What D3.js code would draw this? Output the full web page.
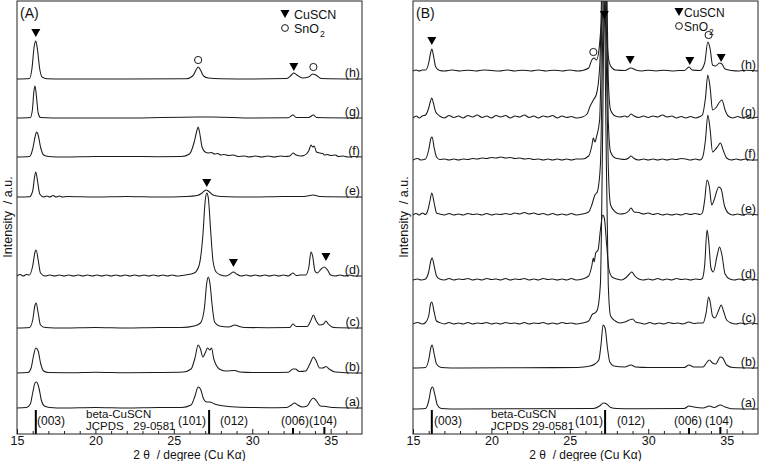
<!DOCTYPE html>
<html><head><meta charset="utf-8">
<script src="https://cdn.jsdelivr.net/npm/d3@7"></script>
<style>
body{margin:0;background:#fff;}
svg text{font-family:"Liberation Sans",Arial,sans-serif;fill:#111;}
</style></head>
<body><svg id="c" width="759" height="461"></svg>
<script>
// ---------- DATA ----------
const traceNames = ["a","b","c","d","e","f","g","h"];
const xTicks = [15,20,25,30,35];
const offsetsA = [26,61,106,158,237,277,316,355];
const offsetsB = [25,66,110,154,219,274,316,363];

const A_a=[[15,0],[15.6,0.5],[15.85,4],[16.0,15],[16.15,25],[16.25,26],[16.4,20],[16.55,8],[16.75,2],[17.1,0.5],[18,0],[20,0.5],[22,0],[24,0.5],[25.5,0.5],[26.1,3],[26.35,12],[26.55,21],[26.7,19],[26.9,9],[27.1,6],[27.3,6],[27.6,4],[28,2.5],[28.5,1.5],[29,1],[30,0.5],[31,0.3],[32.2,0.5],[32.5,3],[32.7,5],[32.9,3],[33.2,1],[33.5,2],[33.75,8],[33.9,10],[34.1,7],[34.35,2],[34.7,1.5],[35.2,0.5],[37,0]];
const A_b=[[15,0],[15.7,0.5],[15.9,5],[16.05,17],[16.2,25],[16.35,22],[16.5,10],[16.7,2],[17,0.5],[18.5,0.3],[20,0.8],[22,0.3],[24,0.5],[25.6,1],[26.1,4],[26.35,15],[26.55,28],[26.7,24],[26.85,16],[27.0,20],[27.15,25],[27.3,23],[27.4,25],[27.55,14],[27.7,8],[27.9,4],[28.3,2],[28.9,2.5],[29.2,1],[30,0.5],[31,0.5],[32.3,0.8],[32.6,4],[32.75,4],[33,1.5],[33.4,2],[33.7,10],[33.9,16],[34.05,13],[34.3,5],[34.5,5],[34.7,6.5],[34.9,4],[35.3,1],[36,0.3],[37,0]];
const A_c=[[15,0],[15.8,0.5],[16.0,8],[16.15,23],[16.22,25],[16.35,15],[16.5,3],[16.8,0.5],[18,0],[20,0.5],[22,0],[24,0.5],[25.5,0.5],[26.3,2],[26.7,5],[26.95,20],[27.1,45],[27.2,51],[27.3,45],[27.45,22],[27.6,6],[27.9,2],[28.5,1],[28.9,3],[29.1,2],[29.5,0.5],[31,0.3],[32.4,0.5],[32.6,4],[32.8,1.5],[33.5,1.5],[33.75,8],[33.9,13],[34.05,8],[34.3,3],[34.55,4],[34.7,7],[34.85,4],[35.2,0.5],[37,0]];
const A_d=[[15,0],[15.2,1.5],[15.4,0],[15.6,1.5],[15.8,1],[16.0,10],[16.15,24],[16.22,26],[16.35,16],[16.5,3],[16.8,0],[17.1,1],[17.4,0],[17.7,1],[18,0],[18.3,1],[18.6,0],[18.9,1],[19.2,0],[19.5,1],[19.8,0],[20.1,1],[20.4,0],[20.7,1],[21,0],[21.3,1],[21.6,0],[21.9,1],[22.2,0],[22.5,1],[22.8,0],[23.1,1],[23.4,0],[23.7,1],[24,0],[24.3,1],[24.6,0],[24.9,1],[25.2,0],[25.5,0.5],[26.3,3],[26.6,10],[26.85,40],[27.0,75],[27.1,83],[27.2,78],[27.35,45],[27.5,15],[27.7,4],[28,1],[28.3,0],[28.55,1.5],[28.8,4],[29,2],[29.3,0],[29.6,1],[29.9,0],[30.2,1],[30.5,0],[30.8,1],[31.1,0],[31.4,1],[31.7,0],[32,1],[32.3,0],[32.6,3],[32.8,0.5],[33.1,1],[33.4,1],[33.6,8],[33.75,24],[33.85,20],[34.0,5],[34.15,3],[34.4,7],[34.6,9],[34.8,6],[35.0,1],[35.3,0],[35.6,1],[35.9,0],[36.2,1],[36.5,0],[37,0]];
const A_e=[[15,0],[15.8,0.3],[16.0,6],[16.12,20],[16.2,25],[16.32,15],[16.45,3],[16.7,0],[16.9,1],[17.1,0],[17.3,1.5],[17.5,0],[17.7,1],[17.9,0],[18.2,0.5],[20,0],[22,0.5],[24,0],[25.8,0.5],[26.5,1.5],[26.8,4],[27.05,7],[27.2,6],[27.5,2],[28,0.5],[30,0],[32,0.5],[33.3,0.5],[33.9,2],[34.3,0.5],[37,0]];
const A_f=[[15,0],[15.8,0.5],[16.0,8],[16.15,20],[16.25,25],[16.35,22],[16.5,10],[16.7,2],[17,0.5],[18,0],[20,0.5],[22,0.5],[24,0.3],[25.5,0.5],[26.0,3],[26.3,15],[26.45,25],[26.55,30],[26.65,24],[26.8,10],[27,5],[27.2,4],[27.4,4.5],[27.6,3],[27.8,3.5],[28,2],[28.2,2.5],[28.5,1.5],[28.8,2],[29.1,0.5],[29.5,1],[29.8,0],[30.2,1],[30.6,0],[31,1],[31.4,0],[31.8,1],[32.1,0.5],[32.4,1],[32.6,4],[32.8,2],[33.1,1],[33.3,1.5],[33.6,6],[33.75,12],[33.85,10],[33.95,11],[34.1,5],[34.3,4],[34.5,3.5],[34.6,2],[34.8,2.5],[35,1.5],[35.3,2],[35.5,0.5],[35.8,1],[36.1,0],[36.5,0.5],[37,0]];
const A_g=[[15,0],[15.85,0.5],[15.98,8],[16.08,27],[16.15,32],[16.25,20],[16.35,5],[16.5,0.5],[18,0],[22,0],[26.5,1],[27.5,1],[30,0],[32.3,0.3],[32.6,3],[32.8,0.5],[33.6,0.5],[33.9,3],[34.1,0.5],[37,0]];
const A_h=[[15,0],[15.8,0.5],[15.95,10],[16.1,33],[16.2,38],[16.3,30],[16.45,10],[16.6,2],[16.9,0.3],[18,0],[22,0],[25.8,0.3],[26.2,3],[26.45,10],[26.55,12],[26.7,9],[26.9,3],[27.2,1],[28,0.3],[30,0],[32.2,0.5],[32.5,4],[32.65,6],[32.85,4],[33.2,1],[33.6,2],[33.85,5],[34.05,4],[34.4,0.5],[37,0]];

const B_a=[[15,0],[15.8,0.5],[16.0,8],[16.15,20],[16.25,22],[16.4,14],[16.55,4],[16.8,0.5],[18,0],[22,0.3],[26.5,0.5],[26.9,3],[27.15,6],[27.35,5],[27.6,1.5],[28,0.5],[29,0.3],[32.3,0.5],[32.6,3],[32.9,2],[33.5,1],[33.9,3],[34.2,1.5],[34.6,4],[34.9,2],[35.3,0.3],[37,0]];
const B_b=[[15,0],[15.8,0.5],[16.0,8],[16.15,21],[16.22,23],[16.35,14],[16.5,4],[16.8,0.5],[18,0],[22,0.3],[25.5,0.5],[26.3,2],[26.6,4],[26.85,8],[27.0,25],[27.12,43],[27.25,40],[27.4,20],[27.55,6],[27.8,2],[28.5,1],[28.9,3],[29.2,1],[30,0.5],[32.3,0.5],[32.6,3],[32.9,1],[33.5,1],[33.75,6],[33.9,8],[34.1,5],[34.3,4],[34.6,11],[34.75,10],[35.0,3],[35.4,0.5],[37,0]];
const B_c=[[15,0],[15.3,1.5],[15.6,0],[15.8,1.5],[16.0,8],[16.12,20],[16.2,22],[16.35,12],[16.5,3],[16.7,1.5],[17,0],[17.3,1.5],[17.6,0],[17.9,1],[18.2,0],[18.5,1.5],[18.8,0],[19.1,1],[19.4,0.5],[19.7,1.5],[20,0],[20.3,1],[20.6,0],[20.9,1.5],[21.2,0.5],[21.5,1],[21.8,0],[22.1,1.5],[22.4,0],[22.7,1],[23,0.5],[23.3,1.5],[23.6,0],[23.9,1],[24.2,0],[24.5,1.5],[24.8,0.5],[25.1,1],[25.4,0],[25.8,1],[26.2,3],[26.45,10],[26.6,11],[26.75,14],[26.95,40],[27.1,200],[27.2,330],[27.3,200],[27.45,40],[27.6,8],[27.9,3],[28.2,1],[28.5,2],[28.8,4],[29,5],[29.2,2],[29.5,1],[29.8,0],[30.1,1.5],[30.4,0],[30.7,1],[31,0],[31.3,1.5],[31.6,0.5],[31.9,1],[32.2,0],[32.6,2],[32.9,0.5],[33.2,1],[33.5,1],[33.7,12],[33.85,27],[33.95,22],[34.1,8],[34.25,6],[34.5,14],[34.65,19],[34.8,13],[35,4],[35.3,1],[35.6,0],[35.9,1],[36.2,0],[36.5,1],[37,0]];
const B_d=[[15,0],[15.3,1],[15.5,0],[15.8,1],[16.0,8],[16.15,20],[16.22,22],[16.35,14],[16.5,4],[16.7,1],[17,0],[17.3,1.5],[17.6,0],[17.9,1],[18.2,0.5],[18.5,1.5],[18.8,0],[19.1,1],[19.4,0],[19.7,1.5],[20,0.5],[20.3,1],[20.6,0],[20.9,1.5],[21.2,0],[21.5,1],[21.8,0.5],[22.1,1.5],[22.4,0],[22.7,1],[23,0],[23.3,1.5],[23.6,0.5],[23.9,1],[24.2,0],[24.5,1],[24.8,0],[25.1,1.5],[25.4,0],[25.8,1],[26.2,4],[26.4,14],[26.5,22],[26.55,18],[26.65,27],[26.8,30],[26.95,50],[27.1,65],[27.2,62],[27.35,35],[27.5,10],[27.7,3],[28,1],[28.3,0],[28.55,2],[28.8,6],[28.95,8],[29.15,4],[29.4,1],[29.7,0],[30,1],[30.3,0],[30.6,1.5],[30.9,0],[31.2,1],[31.5,0],[31.8,1.5],[32.1,0.5],[32.4,1],[32.7,0],[33,1],[33.3,0.5],[33.45,1.5],[33.6,15],[33.75,50],[33.85,40],[34.0,12],[34.15,8],[34.4,25],[34.55,33],[34.7,25],[34.9,6],[35.2,1],[35.5,0],[35.8,1],[36.1,0],[36.4,1],[37,0]];
const B_e=[[15,0],[15.2,1.5],[15.4,0],[15.6,2],[15.8,0.5],[15.95,5],[16.08,14],[16.2,22],[16.35,12],[16.5,2],[16.7,1],[17,0],[17.3,1.5],[17.6,0],[17.9,1],[18.2,0],[18.5,1.5],[18.8,0.5],[19.1,1],[19.4,0],[19.7,1.5],[20,0],[20.3,1],[20.6,0.5],[20.9,1.5],[21.2,0.5],[21.5,2],[21.8,1],[22.1,2.5],[22.4,1],[22.7,2],[23,0.5],[23.3,1.5],[23.6,0],[23.9,1.5],[24.2,0],[24.5,1],[24.8,0],[25.1,1.5],[25.4,0],[25.8,1],[26.2,3],[26.4,10],[26.6,20],[26.75,23],[26.95,50],[27.1,180],[27.2,260],[27.3,180],[27.45,50],[27.6,10],[27.9,3],[28.2,1],[28.5,1.5],[28.75,4],[28.9,7],[29.1,3],[29.4,2.5],[29.7,1],[30,2],[30.3,0.5],[30.6,1.5],[30.9,0],[31.2,1],[31.5,0],[31.8,1],[32.1,0],[32.4,1.5],[32.7,0.5],[33,1.5],[33.3,0.5],[33.45,2],[33.6,15],[33.75,35],[33.9,28],[34.05,10],[34.2,15],[34.5,28],[34.65,26],[34.85,10],[35.1,2],[35.4,0],[35.7,1],[36,0],[36.3,1],[37,0]];
const B_f=[[15,0],[15.3,1.5],[15.5,0],[15.8,1],[16.0,10],[16.15,22],[16.22,23],[16.35,12],[16.5,3],[16.7,0.5],[17,1],[17.3,0],[17.6,1],[17.9,0],[18.2,1],[18.5,0.5],[18.8,1.5],[19.1,1],[19.4,2],[19.7,1.5],[20,2.5],[20.3,2],[20.6,3],[20.9,2],[21.2,2.5],[21.5,1.5],[21.8,2],[22.1,1],[22.4,1.5],[22.7,0.5],[23,1],[23.3,0],[23.6,1],[23.9,0],[24.2,1],[24.5,0],[24.8,1],[25.1,0],[25.4,1],[25.8,1],[26.2,4],[26.4,14],[26.5,22],[26.6,18],[26.7,23],[26.9,40],[27.1,200],[27.2,300],[27.3,200],[27.45,40],[27.6,8],[27.9,2],[28.2,1],[28.5,0.5],[28.75,2],[28.9,4],[29.1,1.5],[29.4,0],[29.7,1],[30,0],[30.3,1],[30.6,0],[30.9,1],[31.2,0],[31.5,1],[31.8,0.5],[32.1,1.5],[32.4,1],[32.7,0],[33,1],[33.3,0],[33.45,2],[33.65,20],[33.8,45],[33.95,30],[34.1,8],[34.25,10],[34.45,14],[34.6,17],[34.8,9],[35.0,2],[35.3,0],[35.6,1],[35.9,0],[36.2,1],[36.5,0],[37,0]];
const B_g=[[15,0],[15.2,2],[15.4,0],[15.6,2],[15.8,3],[16.0,10],[16.1,16],[16.2,20],[16.3,15],[16.45,6],[16.7,2],[17,0],[17.3,2.5],[17.6,0.5],[17.9,2],[18.2,0],[18.5,2.5],[18.8,1],[19.1,3],[19.4,0.5],[19.7,2],[20,0],[20.3,2.5],[20.6,1],[20.9,2.5],[21.2,0],[21.5,2],[21.8,1],[22.1,3],[22.4,0.5],[22.7,2],[23,0],[23.3,2],[23.6,1],[23.9,2.5],[24.2,0],[24.5,2],[24.8,0.5],[25.1,1.5],[25.4,0],[25.8,1],[26.1,4],[26.3,12],[26.5,18],[26.7,24],[26.9,50],[27.1,200],[27.2,330],[27.3,200],[27.45,40],[27.6,8],[27.9,2],[28.2,1],[28.5,2],[28.7,1],[28.9,4],[29.1,2],[29.4,0.5],[29.7,2],[30,0.5],[30.3,2],[30.6,1],[30.9,3],[31.2,1],[31.5,2],[31.8,0],[32.1,1.5],[32.4,0],[32.7,1.5],[33,0],[33.3,1.5],[33.45,3],[33.65,20],[33.8,43],[33.95,30],[34.1,8],[34.3,10],[34.55,16],[34.7,18],[34.9,8],[35.1,2],[35.4,0],[35.7,1.5],[36,0],[36.3,1.5],[36.6,0],[37,1]];
const B_h=[[15,0],[15.2,1],[15.4,0],[15.6,1],[15.8,1],[16.0,8],[16.12,18],[16.2,22],[16.32,14],[16.45,4],[16.7,0.5],[17,0],[17.5,1],[18,0],[18.5,0.8],[19,0],[19.5,1],[20,0.5],[20.5,0],[21,1],[21.5,0],[22,0.8],[22.5,0],[23,1],[23.5,0],[24,0.8],[24.5,0],[25,1],[25.5,0],[25.8,0.5],[26.2,3],[26.4,11],[26.55,13],[26.7,11],[26.85,20],[27.0,45],[27.15,60],[27.3,45],[27.45,15],[27.6,5],[27.9,1],[28.5,0.5],[28.9,3],[29.2,1],[29.6,0],[30,0.8],[30.5,0],[31,0.8],[31.5,0],[32,0.5],[32.3,0.5],[32.6,4],[32.8,1],[33.3,0.5],[33.6,8],[33.8,29],[33.95,22],[34.1,6],[34.3,5],[34.55,8],[34.7,7],[34.9,2],[35.3,0.5],[35.8,0],[36.3,0.8],[37,0]];

const tracesA=[A_a,A_b,A_c,A_d,A_e,A_f,A_g,A_h];
const tracesB=[B_a,B_b,B_c,B_d,B_e,B_f,B_g,B_h];

// reference pattern (JCPDS 29-0581)
const stickPos=[16.2,27.25,32.6,34.6];
const stickInt=[24,24,6,7];
const hklLabels=["(003)","(101)","(012)","(006)","(104)"];

// phase markers [2theta, intensity a.u. position, type]
const markersA=[[16.2,401,"t"],[26.55,374,"o"],[32.65,367,"t"],[33.9,367,"o"],[27.1,251,"t"],[28.8,171,"t"],[34.7,177,"t"]];
const markersB=[[16.2,393,"t"],[26.5,382,"o"],[27.2,419,"t"],[28.85,374,"t"],[32.65,373,"t"],[33.85,399,"o"],[34.65,376,"t"]];

// ---------- DRAW ----------
const svg=d3.select("#c");
const defs=svg.append("defs");

function panel(left,right,traces,offsets,markers,tag,hklX,beta){
  const x=d3.scaleLinear().domain([15,37]).range([left,right]);
  const y=d3.scaleLinear().domain([0,433]).range([434,1]);
  const id="clip"+tag;
  defs.append("clipPath").attr("id",id).append("rect")
    .attr("x",left).attr("y",1).attr("width",right-left).attr("height",433);
  const g=svg.append("g");
  const line=d3.line().x(d=>x(d[0])).curve(d3.curveMonotoneX);
  const lg=g.append("g").attr("clip-path",`url(#${id})`);
  traces.forEach((t,i)=>{
    lg.append("path").datum(t)
      .attr("d",line.y(d=>y(d[1]+offsets[i])))
      .attr("fill","none").attr("stroke","#1a1a1a").attr("stroke-width",1.05);
    g.append("text").attr("x",right-2).attr("y",y(offsets[i])-2)
      .attr("text-anchor","end").attr("font-size",12.5).text("("+traceNames[i]+")");
  });
  // sticks
  stickPos.forEach((p,i)=>{
    g.append("line").attr("x1",x(p)).attr("x2",x(p)).attr("y1",434).attr("y2",y(stickInt[i]))
      .attr("stroke","#000").attr("stroke-width",2);
  });
  // frame
  g.append("rect").attr("x",left).attr("y",1).attr("width",right-left).attr("height",433)
    .attr("fill","none").attr("stroke","#222").attr("stroke-width",1);
  // axis
  const ax=d3.axisBottom(x).tickValues(xTicks).tickSize(-5).tickPadding(2).tickFormat(d3.format("d"));
  const axg=g.append("g").attr("transform","translate(0,434)").call(ax);
  axg.select(".domain").remove();
  axg.selectAll("text").attr("font-size",12.5).attr("font-family","Liberation Sans, Arial").attr("fill","#111");
  axg.selectAll("line").attr("stroke","#222");
  const minor=d3.axisBottom(x).tickValues(d3.range(16,37,1).filter(v=>v%5)).tickSize(-3).tickFormat("");
  const mg=g.append("g").attr("transform","translate(0,434)").call(minor);
  mg.select(".domain").remove(); mg.selectAll("line").attr("stroke","#222");
  // hkl labels
  hklLabels.forEach((l,i)=>{
    g.append("text").attr("x",hklX[i]).attr("y",425).attr("font-size",12).text(l);
  });
  g.append("text").attr("x",beta[0]).attr("y",418).attr("font-size",11.5).text("beta-CuSCN");
  g.append("text").attr("x",beta[0]).attr("y",430).attr("font-size",11.5).attr("xml:space","preserve").text(beta[1]);
  // markers
  markers.forEach(m=>{
    const cx=x(m[0]),cy=y(m[1]);
    if(m[2]==="t") g.append("path").attr("d",`M${cx-4.5},${cy-4}L${cx+4.5},${cy-4}L${cx},${cy+4}Z`).attr("fill","#000");
    else g.append("circle").attr("cx",cx).attr("cy",cy).attr("r",3.6).attr("fill","none").attr("stroke","#000").attr("stroke-width",0.9);
  });
  // axis titles
  g.append("text").attr("x",(left+right)/2).attr("y",458.5).attr("text-anchor","middle").attr("font-size",12)
    .attr("xml:space","preserve").text("2 θ  / degree (Cu Kα)");
  g.append("text").attr("transform",`translate(${left-5},${217}) rotate(-90)`).attr("text-anchor","middle")
    .attr("font-size",12.5).attr("xml:space","preserve").text("Intensity  / a.u.");
  g.append("text").attr("x",left+3).attr("y",18).attr("font-size",14).text("("+tag+")");
  return {g,x,y};
}

const pA=panel(17,362,tracesA,offsetsA,markersA,"A",[37,178,220,281,309],[86,"JCPDS   29-0581"]);
const pB=panel(413,758,tracesB,offsetsB,markersB,"B",[434,575,617,674,705],[491,"JCPDS 29-0581"]);

// legends
function legend(p,lx,ly,dx,fs){
  p.g.append("path").attr("d",`M${lx-4.5},${ly-4}L${lx+4.5},${ly-4}L${lx},${ly+4}Z`).attr("fill","#000");
  p.g.append("text").attr("x",lx+dx).attr("y",ly+5).attr("font-size",fs).text("CuSCN");
  p.g.append("circle").attr("cx",lx).attr("cy",ly+14).attr("r",3.4).attr("fill","none").attr("stroke","#000").attr("stroke-width",0.9);
  const t=p.g.append("text").attr("x",lx+dx).attr("y",ly+19).attr("font-size",fs).text("SnO");
  const w=t.node().getComputedTextLength();
  p.g.append("text").attr("x",lx+dx+w+1).attr("y",ly+23).attr("font-size",fs*0.7).text("2");
}
legend(pA,285,14,9,12.5);
legend(pB,679,12,5,12);
</script></body></html>
